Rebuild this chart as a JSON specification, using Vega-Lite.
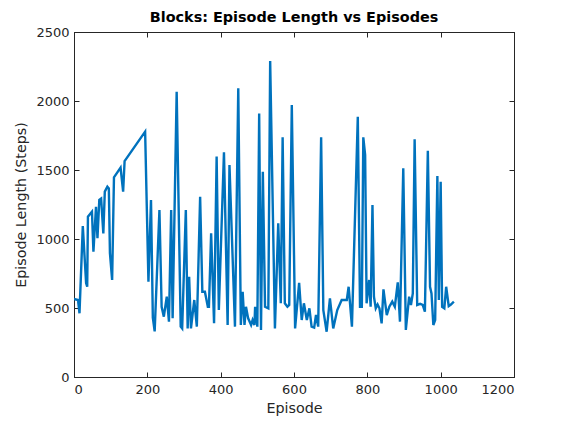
{
  "$schema": "https://vega.github.io/schema/vega-lite/v6.json",
  "autosize": "none",
  "width": 440,
  "height": 345,
  "padding": {"left": 74, "top": 32, "right": 54, "bottom": 47},
  "background": "white",
  "title": {"text": "Blocks: Episode Length vs Episodes", "font": "DejaVu Sans", "fontSize": 14.4, "fontWeight": "bold", "color": "#000000", "anchor": "middle", "offset": 1},
  "config": {
    "view": {"stroke": "#262626", "strokeWidth": 1},
    "axis": {"labelFont": "DejaVu Sans", "labelFontSize": 13, "labelColor": "#262626", "titleFont": "DejaVu Sans", "titleFontSize": 14.3, "titleFontWeight": "normal", "titleColor": "#262626", "domainColor": "#262626", "tickColor": "#262626", "tickSize": -5, "grid": false, "format": "d"}
  },
  "data": {"values": [
    {"episode": 0, "length": 565}, {"episode": 11, "length": 558}, {"episode": 15, "length": 462},
    {"episode": 24, "length": 1094}, {"episode": 33, "length": 681}, {"episode": 36, "length": 654},
    {"episode": 38, "length": 1162}, {"episode": 46, "length": 1188}, {"episode": 49, "length": 1198},
    {"episode": 53, "length": 908}, {"episode": 60, "length": 1234}, {"episode": 64, "length": 1005},
    {"episode": 69, "length": 1283}, {"episode": 74, "length": 1293}, {"episode": 80, "length": 1041},
    {"episode": 84, "length": 1343}, {"episode": 91, "length": 1379}, {"episode": 95, "length": 1366},
    {"episode": 98, "length": 898}, {"episode": 104, "length": 703}, {"episode": 109, "length": 1447},
    {"episode": 127, "length": 1517}, {"episode": 134, "length": 1343}, {"episode": 138, "length": 1565},
    {"episode": 194, "length": 1778}, {"episode": 203, "length": 691}, {"episode": 210, "length": 1283},
    {"episode": 215, "length": 430}, {"episode": 220, "length": 330}, {"episode": 233, "length": 1210},
    {"episode": 239, "length": 509}, {"episode": 245, "length": 437}, {"episode": 253, "length": 582},
    {"episode": 259, "length": 401}, {"episode": 265, "length": 1210}, {"episode": 269, "length": 425},
    {"episode": 280, "length": 2067}, {"episode": 291, "length": 365}, {"episode": 295, "length": 352},
    {"episode": 305, "length": 1210}, {"episode": 310, "length": 352}, {"episode": 314, "length": 727},
    {"episode": 319, "length": 352}, {"episode": 328, "length": 558}, {"episode": 335, "length": 365},
    {"episode": 344, "length": 1306}, {"episode": 350, "length": 618}, {"episode": 357, "length": 618},
    {"episode": 365, "length": 509}, {"episode": 368, "length": 509}, {"episode": 374, "length": 1041},
    {"episode": 382, "length": 389}, {"episode": 389, "length": 1597}, {"episode": 395, "length": 485},
    {"episode": 409, "length": 1628}, {"episode": 419, "length": 377}, {"episode": 424, "length": 1536},
    {"episode": 439, "length": 365}, {"episode": 448, "length": 2092}, {"episode": 455, "length": 377},
    {"episode": 460, "length": 618}, {"episode": 465, "length": 377}, {"episode": 469, "length": 509},
    {"episode": 475, "length": 425}, {"episode": 483, "length": 377}, {"episode": 487, "length": 413},
    {"episode": 492, "length": 377}, {"episode": 494, "length": 509}, {"episode": 500, "length": 365},
    {"episode": 505, "length": 1910}, {"episode": 510, "length": 341}, {"episode": 515, "length": 1488},
    {"episode": 521, "length": 509}, {"episode": 530, "length": 498}, {"episode": 535, "length": 2290},
    {"episode": 548, "length": 352}, {"episode": 557, "length": 1113}, {"episode": 564, "length": 534},
    {"episode": 569, "length": 1737}, {"episode": 575, "length": 534}, {"episode": 582, "length": 509},
    {"episode": 587, "length": 522}, {"episode": 594, "length": 1971}, {"episode": 603, "length": 352},
    {"episode": 614, "length": 683}, {"episode": 621, "length": 413}, {"episode": 627, "length": 534},
    {"episode": 635, "length": 413}, {"episode": 642, "length": 498}, {"episode": 648, "length": 365},
    {"episode": 655, "length": 358}, {"episode": 660, "length": 449}, {"episode": 666, "length": 365},
    {"episode": 674, "length": 1737}, {"episode": 680, "length": 485}, {"episode": 689, "length": 328},
    {"episode": 698, "length": 570}, {"episode": 707, "length": 352}, {"episode": 718, "length": 485},
    {"episode": 730, "length": 558}, {"episode": 744, "length": 558}, {"episode": 749, "length": 654},
    {"episode": 758, "length": 365}, {"episode": 774, "length": 1886}, {"episode": 780, "length": 509},
    {"episode": 785, "length": 509}, {"episode": 789, "length": 1737}, {"episode": 794, "length": 1610},
    {"episode": 798, "length": 534}, {"episode": 805, "length": 703}, {"episode": 809, "length": 509},
    {"episode": 814, "length": 1246}, {"episode": 818, "length": 582}, {"episode": 823, "length": 498},
    {"episode": 828, "length": 525}, {"episode": 833, "length": 498}, {"episode": 839, "length": 389},
    {"episode": 844, "length": 635}, {"episode": 853, "length": 449}, {"episode": 860, "length": 509},
    {"episode": 868, "length": 546}, {"episode": 875, "length": 509}, {"episode": 883, "length": 686},
    {"episode": 889, "length": 401}, {"episode": 898, "length": 1512}, {"episode": 905, "length": 341},
    {"episode": 914, "length": 582}, {"episode": 919, "length": 522}, {"episode": 924, "length": 606},
    {"episode": 929, "length": 1722}, {"episode": 936, "length": 522}, {"episode": 944, "length": 530},
    {"episode": 951, "length": 522}, {"episode": 957, "length": 473}, {"episode": 965, "length": 1640},
    {"episode": 971, "length": 654}, {"episode": 975, "length": 606}, {"episode": 980, "length": 377},
    {"episode": 985, "length": 413}, {"episode": 991, "length": 1456}, {"episode": 995, "length": 558},
    {"episode": 1000, "length": 1415}, {"episode": 1004, "length": 509}, {"episode": 1010, "length": 498},
    {"episode": 1015, "length": 654}, {"episode": 1022, "length": 514}, {"episode": 1028, "length": 525},
    {"episode": 1036, "length": 546}
  ]},
  "layer": [
    {
      "mark": {"type": "line", "color": "#0072BD", "strokeWidth": 2.4, "clip": true},
      "encoding": {
        "x": {"field": "episode", "type": "quantitative", "scale": {"domain": [0, 1200], "nice": false}, "axis": {"title": "Episode", "values": [0, 200, 400, 600, 800, 1000, 1200], "labelPadding": 11, "titlePadding": 5}},
        "y": {"field": "length", "type": "quantitative", "scale": {"domain": [0, 2500], "nice": false}, "axis": {"title": "Episode Length (Steps)", "values": [0, 500, 1000, 1500, 2000, 2500], "labelPadding": 10, "titlePadding": 7}}
      }
    },
    {
      "mark": {"type": "line", "opacity": 0},
      "encoding": {
        "x": {"field": "episode", "type": "quantitative", "scale": {"domain": [0, 1200], "nice": false}, "axis": {"orient": "top", "title": null, "labels": false, "values": [0, 200, 400, 600, 800, 1000, 1200]}},
        "y": {"field": "length", "type": "quantitative", "scale": {"domain": [0, 2500], "nice": false}, "axis": {"orient": "right", "title": null, "labels": false, "values": [0, 500, 1000, 1500, 2000, 2500]}}
      }
    }
  ],
  "resolve": {"axis": {"x": "independent", "y": "independent"}}
}
